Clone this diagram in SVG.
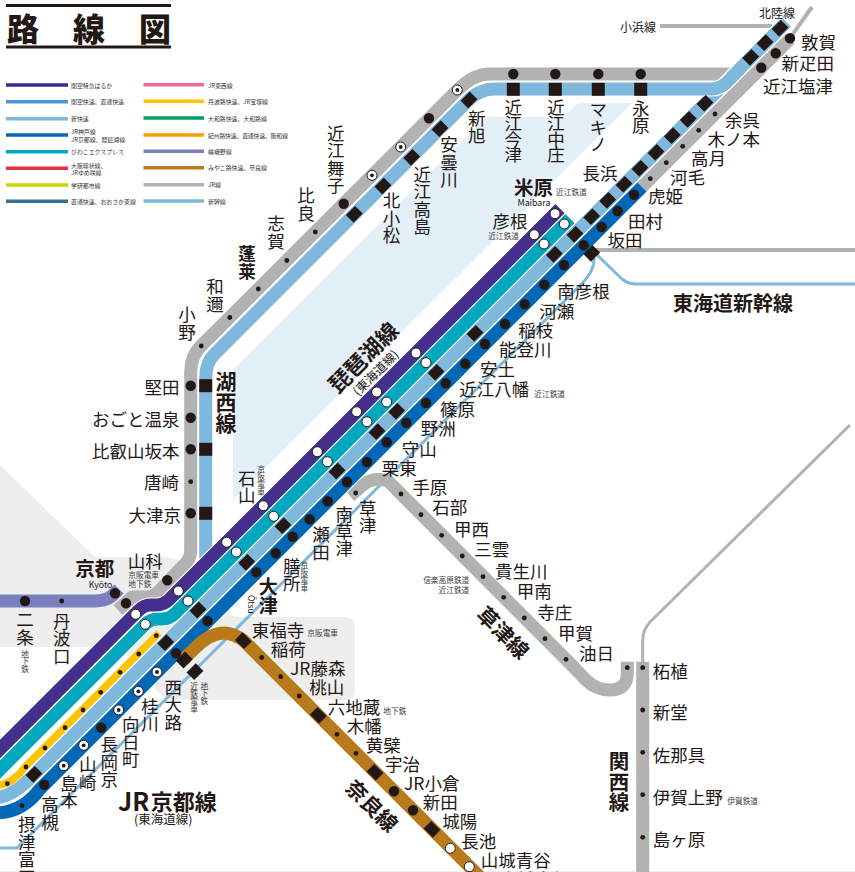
<svg xmlns="http://www.w3.org/2000/svg" width="855" height="872" viewBox="0 0 855 872">
<style>
text{font-family:"Noto Sans CJK JP","Noto Sans",sans-serif;fill:#231815;dominant-baseline:central}
.l{font-size:17.5px}
.v{writing-mode:vertical-rl}
.s{font-size:7.7px;fill:#3c3c3c}
.t{font-size:5.9px;fill:#333}
.h{font-weight:700}
.e{text-anchor:end}
.m{text-anchor:middle}
.r{fill:none;stroke-linejoin:round}
.k{stroke:#fff;stroke-width:15.2}
.c{stroke-width:13}
.b{fill:#231815}
.d{fill:#231815}
.w{fill:#fff;stroke:#231815;stroke-width:1}
.lg{stroke-width:3.6;fill:none}
</style>
<defs>
<rect id="sq" x="-6.5" y="-5.4" width="13" height="10.8" class="b" transform="rotate(-45)"/>
<rect id="sb" x="-6.5" y="-5.4" width="13" height="10.8" class="b" transform="rotate(45)"/>
<rect id="sh" x="-6.5" y="-6.5" width="13" height="13" class="b"/>
<circle id="bc" r="5.2" class="b"/>
<circle id="dt" r="2.4" class="d"/>
<circle id="wc" r="5" class="w"/>
<g id="tg"><circle r="5" class="w"/><circle r="1.9" class="b"/></g>
<path id="pKoseiG" d="M118,610 L132,597 H145 Q155,597 160,590 L183,566 Q190.7,560 190.7,550 V372 Q190.7,356 201,346 L458,89.5 Q473.5,74 490,74 H740"/>
<path id="pKoseiB" d="M205.7,578 V378 Q205.7,363 214,354.6 L468,100.6 Q479.6,89 495,89 H712 Q722,89 731,78 L745,63.5"/>
<path id="pGrayD" d="M636,193 L790,39"/>
<path id="pBlue" d="M642,187 L40,789 Q22,813 -5,813"/>
<path id="pLB" d="M786.5,22 L32,776.5 Q12,797.5 -6,798"/>
<path id="pTeal" d="M570,218.5 L175,613.5 Q169.5,619 162,619 H158 Q152,619 147,622.5 L-5,774.5"/>
<path id="pPurple" d="M560,208.7 L170,598.7 Q164,605 156,605 H150 Q144,605 138,611 L-5,754"/>
</defs>
<rect width="855" height="872" fill="#fff"/>
<g id="background">
<path d="M0,465 L95,557 H165 Q178,557 185,568 L215,605 Q225,617 240,617 H345 Q355,617 355,627 V690 Q355,700 345,700 H165 L120,647 H0 Z" fill="#eeeeee"/>
<path d="M233,500 V375 Q233,370 237,366 L486,117 H563 L577,104 Q578,103 582,103 H632 Z" fill="#e3f0f8"/>
<rect y="871" width="855" height="1" fill="#eeeeee"/>
</g>
<g id="title">
<rect x="6" y="4" width="165" height="3" class="b"/>
<rect x="6" y="45.500" width="165" height="3" class="b"/>
<text x="7" y="26.500" font-size="32" font-weight="900">路</text>
<text x="73" y="26.500" font-size="32" font-weight="900">線</text>
<text x="139" y="26.500" font-size="32" font-weight="900">図</text>
</g>
<g id="legend">
<path class="lg" stroke="#3b2a8f" d="M6,85 H68"/><text class="t" x="71" y="85.500">関空特急はるか</text>
<path class="lg" stroke="#4a96d3" d="M6,101.700 H68"/><text class="t" x="71" y="101.700">関空快速、直通快速</text>
<path class="lg" stroke="#7fb8dd" d="M6,118.700 H68"/><text class="t" x="71" y="118.700">新快速</text>
<path class="lg" stroke="#0068b7" d="M6,135 H68"/><text class="t" x="71" y="131.500">JR神戸線</text><text class="t" x="71" y="139">JR京都線、琵琶湖線</text>
<path class="lg" stroke="#00a7bf" d="M6,151.700 H68"/><text class="t" x="71" y="151.700">びわこエクスプレス</text>
<path class="lg" stroke="#e8304a" d="M6,168.300 H68"/><text class="t" x="71" y="165">大阪環状線、</text><text class="t" x="71" y="172.500">JRゆめ咲線</text>
<path class="lg" stroke="#c3d600" d="M6,185 H68"/><text class="t" x="71" y="185">学研都市線</text>
<path class="lg" stroke="#33709a" d="M6,201.300 H68"/><text class="t" x="71" y="201.300">直通快速、おおさか東線</text>
<path class="lg" stroke="#ee6d8f" d="M143.500,84.700 H204"/><text class="t" x="208" y="85">JR東西線</text>
<path class="lg" stroke="#ffc400" d="M143.500,101.300 H204"/><text class="t" x="208" y="101.300">丹波路快速、JR宝塚線</text>
<path class="lg" stroke="#00a15e" d="M143.500,118 H204"/><text class="t" x="208" y="118">大和路快速、大和路線</text>
<path class="lg" stroke="#f99f00" d="M143.500,135 H204"/><text class="t" x="208" y="135" letter-spacing="-0.2">紀州路快速、直通快速、阪和線</text>
<path class="lg" stroke="#7a80bf" d="M143.500,151.300 H204"/><text class="t" x="208" y="151.300">嵯峨野線</text>
<path class="lg" stroke="#b97a1b" d="M143.500,167.700 H204"/><text class="t" x="208" y="167.700">みやこ路快速、奈良線</text>
<path class="lg" stroke="#b2b2b2" d="M143.500,184.700 H204"/><text class="t" x="208" y="184.700">JR線</text>
<path class="lg" stroke="#7fb8dd" d="M143.500,201 H204"/><text class="t" x="208" y="201">新幹線</text>
</g>
<g id="connectors">
<path class="r" stroke="#7fb8dd" stroke-width="3" d="M-5,848 H17 L582,283.500 Q595,270 594,258"/>
<path class="r" stroke="#7fb8dd" stroke-width="3" d="M594,252 L622,279 Q628,284 636,284 H855"/>
<path class="r" stroke="#b2b2b2" stroke-width="4" d="M595,250 H855"/>
<path class="r" stroke="#b2b2b2" stroke-width="4" d="M660,26 H772"/>
<path class="r" stroke="#b2b2b2" stroke-width="4" d="M790,38 L812,7"/>
<path class="r" stroke="#b2b2b2" stroke-width="3" d="M642.700,665 V640 Q642.700,630 650,622 L850,425"/>
<path class="r c" stroke="#b2b2b2" d="M350,496 L364,484 Q374,477 388,481 L566,659.300 L586,680 Q596,690 610,690 Q627.300,690 627.300,673 V661.700"/>
<path class="r c" stroke="#b2b2b2" d="M642.700,661.700 V872"/>
<path class="r c" stroke="#7a80bf" d="M-5,601 H95 Q105,601 112,596 L119,589"/>
<use href="#pKoseiG" class="r c" stroke="#b2b2b2"/>
<use href="#pGrayD" class="r c" stroke="#b2b2b2"/>
<use href="#pLB" class="r k"/>
<use href="#pLB" class="r c" stroke="#7fb8dd"/>
<use href="#pKoseiB" class="r k"/>
<use href="#pKoseiB" class="r c" stroke="#7fb8dd"/>
<use href="#pBlue" class="r k"/>
<use href="#pBlue" class="r c" stroke="#0068b7"/>
<path class="r" stroke="#ffc400" stroke-width="7.400" d="M159,633 L25,767 Q12,785 -5,786"/>
<use href="#pTeal" class="r k"/>
<use href="#pTeal" class="r c" stroke="#00a7bf"/>
<use href="#pPurple" class="r k"/>
<use href="#pPurple" class="r c" stroke="#44308c"/>
<path class="r c" stroke="#b97a1b" d="M183,660 L195,648 Q210,633 225,633 Q235,634 243.500,640.500 L480,877"/>
</g>
<g id="line-names">
<text class="h m" font-size="22" transform="translate(362,356) rotate(-45)">琵琶湖線</text>
<text class="m" font-size="12.500" transform="translate(375,372) rotate(-45)">(東海道線)</text>
<text class="h m" font-size="21" transform="translate(504,632) rotate(45)">草津線</text>
<text class="h m" font-size="21" transform="translate(372.700,805) rotate(45)">奈良線</text>
<text class="h v" font-size="21" x="226" y="371">湖西線</text>
<text class="h v" font-size="20.500" x="619" y="751">関西線</text>
<text class="h" x="118" y="799.500"><tspan font-size="25">JR</tspan><tspan font-size="22" dx="1.500">京都線</tspan></text>
<text font-size="12.500" x="134" y="818.500">(東海道線)</text>
<text class="h" font-size="20" x="673" y="302">東海道新幹線</text>
<text font-size="12" x="620" y="26">小浜線</text>
<text font-size="12" x="759" y="12.700">北陸線</text>
</g>
<g id="st-tsuruga"><use href="#bc" x="790" y="38.300"/><use href="#sq" transform="translate(780,28.300)"/><text class="l" x="801" y="41">敦賀</text></g>
<g id="st-shinhikida"><use href="#bc" x="775.700" y="53.300"/><use href="#sq" transform="translate(765,42.700)"/><text class="l" x="781.500" y="62.300">新疋田</text></g>
<g id="st-omishiozu"><use href="#bc" x="761.300" y="67.700"/><use href="#sq" transform="translate(750.700,57.300)"/><text class="l" x="763" y="85">近江塩津</text></g>
<g id="st-yogo"><use href="#dt" x="715" y="114"/><use href="#sq" transform="translate(705,103.300)"/><text class="l" x="725" y="119">余呉</text></g>
<g id="st-kinomoto"><use href="#dt" x="698.700" y="130.300"/><use href="#sq" transform="translate(688.300,119.300)"/><text class="l" x="707.500" y="138">木ノ本</text></g>
<g id="st-takatsuki2"><use href="#dt" x="682.700" y="146.300"/><use href="#sq" transform="translate(672.300,135.700)"/><text class="l" x="691" y="157">高月</text></g>
<g id="st-kawake"><use href="#dt" x="666.300" y="162.700"/><use href="#sq" transform="translate(656,152.300)"/><text class="l" x="670" y="176.700">河毛</text></g>
<g id="st-torahime"><use href="#dt" x="650.300" y="178.700"/><use href="#sq" transform="translate(640,168.300)"/><text class="l" x="648" y="195.300">虎姫</text></g>
<g id="st-nagahama"><use href="#bc" x="634" y="194.700"/><use href="#sq" transform="translate(624,184.300)"/><text class="l" x="582.500" y="172.700">長浜</text></g>
<g id="st-tamura"><use href="#bc" x="617.700" y="211"/><use href="#sq" transform="translate(607.700,200.300)"/><text class="l" x="628" y="220">田村</text></g>
<g id="st-sakata"><use href="#bc" x="601.700" y="227"/><use href="#sq" transform="translate(591.700,216.700)"/><text class="l" x="607.500" y="239">坂田</text></g>
<g id="st-maibara"><use href="#wc" x="555" y="213.700"/><use href="#wc" x="564.300" y="224"/><use href="#sq" transform="translate(575,234.300)"/><use href="#bc" x="583.700" y="245.300"/><use href="#sq" transform="translate(591.700,253.300)"/><text class="h" font-size="19.500" x="514" y="186.500">米原</text><text font-size="8.800" x="517.500" y="202">Maibara</text><text class="s" x="556" y="191.700">近江鉄道</text></g>
<g id="st-hikone"><use href="#wc" x="534.300" y="234.700"/><use href="#wc" x="544" y="244"/><use href="#sq" transform="translate(554.300,254.300)"/><use href="#bc" x="564" y="265"/><text class="l" x="492.500" y="220.700">彦根</text><text class="s" x="488.300" y="235">近江鉄道</text></g>
<g id="st-minamihikone"><use href="#bc" x="544.300" y="284.700"/><text class="l" x="557.300" y="290">南彦根</text></g>
<g id="st-kawase"><use href="#bc" x="524.700" y="304.300"/><text class="l" x="539.300" y="310">河瀬</text></g>
<g id="st-inae"><use href="#bc" x="505" y="324"/><text class="l" x="518.300" y="329.300">稲枝</text></g>
<g id="st-notogawa"><use href="#sq" transform="translate(475,333.300)"/><use href="#bc" x="485" y="344"/><text class="l" x="499" y="348.700">能登川</text></g>
<g id="st-azuchi"><use href="#bc" x="465.300" y="363.700"/><text class="l" x="480" y="368">安土</text></g>
<g id="st-omihachiman"><use href="#wc" x="416" y="353"/><use href="#wc" x="426" y="362.700"/><use href="#sq" transform="translate(436,372.300)"/><use href="#bc" x="445.700" y="383.300"/><text class="l" x="459.300" y="388.300">近江八幡</text><text class="s" x="534.300" y="393.300">近江鉄道</text></g>
<g id="st-shinohara"><use href="#bc" x="426" y="403"/><text class="l" x="440" y="408.700">篠原</text></g>
<g id="st-yasu"><use href="#wc" x="376.700" y="392"/><use href="#wc" x="386.700" y="402"/><use href="#sq" transform="translate(396.700,411.300)"/><use href="#bc" x="406.300" y="422.700"/><text class="l" x="420.700" y="427.700">野洲</text></g>
<g id="st-moriyama"><use href="#wc" x="356.700" y="411.700"/><use href="#wc" x="367" y="421.700"/><use href="#sq" transform="translate(377,431.700)"/><use href="#bc" x="386.700" y="442.300"/><text class="l" x="401.700" y="448.300">守山</text></g>
<g id="st-ritto"><use href="#bc" x="367" y="462"/><text class="l" x="381.700" y="467.300">栗東</text></g>
<g id="st-kusatsu"><use href="#wc" x="317.300" y="451.700"/><use href="#wc" x="327.300" y="461.700"/><use href="#sq" transform="translate(337,471)"/><use href="#bc" x="347" y="482"/><use href="#dt" x="355.700" y="493"/><text class="l v" x="367.700" y="499.500">草津</text></g>
<g id="st-minamikusatsu"><use href="#bc" x="327.700" y="501.300"/><text class="l v" x="344.300" y="506" letter-spacing="-0.500">南草津</text></g>
<g id="st-seta"><use href="#bc" x="309.700" y="519.300"/><text class="l v" x="321" y="526">瀬田</text></g>
<g id="st-ishiyama"><use href="#wc" x="263.300" y="505.700"/><use href="#wc" x="273.700" y="516.300"/><use href="#sq" transform="translate(283,525.700)"/><use href="#bc" x="292.700" y="536.700"/><text class="l v" x="246.700" y="469.500">石山</text><text class="s v" x="261" y="465">京阪電車</text></g>
<g id="st-zeze"><use href="#bc" x="275.700" y="553.300"/><text class="l v" x="291.700" y="557.500">膳所</text><text class="s v" x="304.300" y="561">京阪電車</text></g>
<g id="st-otsu"><use href="#wc" x="226.700" y="542.300"/><use href="#wc" x="236.300" y="552"/><use href="#sq" transform="translate(246.700,562.300)"/><use href="#bc" x="256.300" y="572.300"/><text class="h v" font-size="19" x="268.300" y="577">大津</text><text class="v" font-size="8.500" x="251.700" y="595">Ōtsu</text></g>
<g id="st-yamashina"><use href="#bc" x="167.300" y="580.300"/><use href="#wc" x="178.300" y="591"/><use href="#wc" x="188" y="601"/><use href="#sq" transform="translate(198,610)"/><use href="#bc" x="207.700" y="621"/><text class="l" x="127.700" y="560">山科</text><text class="s" x="128.300" y="574.300">京阪電車</text><text class="s" x="128.300" y="583.700">地下鉄</text></g>
<g id="st-kyoto"><use href="#bc" x="126" y="603.300"/><use href="#bc" x="115" y="593.300"/><use href="#wc" x="135.700" y="614.300"/><use href="#wc" x="145.300" y="624.300"/><use href="#dt" x="156.300" y="635.700"/><use href="#sq" transform="translate(165.700,642.700)"/><use href="#bc" x="176" y="653.300"/><use href="#sq" transform="translate(184.300,660)"/><use href="#sq" transform="translate(195,671.700)"/><text class="h" font-size="19.500" x="75.300" y="567.300">京都</text><text font-size="8.800" x="88.700" y="584">Kyōto</text></g>
<g id="st-nijo"><use href="#bc" x="25" y="601"/><text class="l v" x="25" y="611">二条</text><text class="s v" x="25" y="650">地下鉄</text></g>
<g id="st-tambaguchi"><use href="#dt" x="61.700" y="601"/><text class="l v" x="61.700" y="612.500">丹波口</text></g>
<g id="st-nishioji"><use href="#dt" x="138.700" y="654"/><use href="#tg" x="157" y="672"/><text class="l v" x="173.300" y="678.500">西大路</text><text class="s v" x="204.300" y="682">地下鉄</text><text class="s v" x="194" y="682">近鉄電車</text></g>
<g id="st-katsuragawa"><use href="#dt" x="120" y="672.300"/><use href="#tg" x="138.300" y="691.300"/><text class="l v" x="150" y="697.500">桂川</text></g>
<g id="st-mukomachi"><use href="#dt" x="100.700" y="692.300"/><use href="#tg" x="118.700" y="710"/><text class="l v" x="130.700" y="716">向日町</text></g>
<g id="st-nagaokakyo"><use href="#dt" x="83" y="710"/><use href="#bc" x="101.300" y="727.700"/><text class="l v" x="109.300" y="736">長岡京</text></g>
<g id="st-yamazaki"><use href="#dt" x="65" y="727.700"/><use href="#tg" x="83.700" y="745.300"/><text class="l v" x="87.700" y="756">山崎</text></g>
<g id="st-shimamoto"><use href="#dt" x="45" y="748"/><use href="#tg" x="63.700" y="765.700"/><text class="l v" x="69" y="774.500">島本</text></g>
<g id="st-takatsuki"><use href="#dt" x="26" y="767"/><use href="#sq" transform="translate(34,774.300)"/><use href="#bc" x="44.300" y="784.700"/><text class="l v" x="50" y="796">高槻</text></g>
<g id="st-settsutonda"><use href="#dt" x="7.300" y="783.700"/><use href="#dt" x="22" y="805.700"/><text class="l v" x="26.700" y="816">摂津富田</text></g>
<g id="st-nagahara"><use href="#bc" x="640.700" y="74"/><use href="#sh" x="640.700" y="89.300"/><text class="l v" x="640.700" y="99.500">永原</text></g>
<g id="st-makino"><use href="#bc" x="598.300" y="74"/><use href="#sh" x="598.300" y="89.300"/><text class="l v" x="598.300" y="101">マキノ</text></g>
<g id="st-ominakasho"><use href="#bc" x="555.300" y="74"/><use href="#sh" x="555.300" y="89.300"/><text class="l v" x="556" y="98.500" letter-spacing="-1.700">近江中庄</text></g>
<g id="st-omiimazu"><use href="#bc" x="513.300" y="74"/><use href="#sh" x="513.300" y="89.300"/><text class="l v" x="513.300" y="98.500" letter-spacing="-1.700">近江今津</text></g>
<g id="st-shinasahi"><use href="#tg" x="457.300" y="90"/><use href="#sq" transform="translate(469,100)"/><text class="l v" x="476.700" y="109.500">新旭</text></g>
<g id="st-adogawa"><use href="#bc" x="429" y="118.300"/><use href="#sq" transform="translate(440,128.700)"/><text class="l v" x="449" y="136">安曇川</text></g>
<g id="st-omitakashima"><use href="#tg" x="400.700" y="147"/><use href="#sq" transform="translate(411.700,157.300)"/><text class="l v" x="422.300" y="165.500">近江高島</text></g>
<g id="st-kitakomatsu"><use href="#tg" x="372" y="175.300"/><use href="#sq" transform="translate(383,186)"/><text class="l v" x="391.500" y="192">北小松</text></g>
<g id="st-omimaiko"><use href="#bc" x="343.700" y="203.700"/><use href="#sq" transform="translate(354.300,214.300)"/><text class="l v" x="335.700" y="124.500">近江舞子</text></g>
<g id="st-hira"><use href="#dt" x="315.300" y="232"/><text class="l v" x="306" y="187">比良</text></g>
<g id="st-shiga"><use href="#dt" x="286.800" y="260.500"/><text class="l v" x="276" y="215">志賀</text></g>
<g id="st-horai"><use href="#dt" x="258.300" y="289"/><text class="h v" font-size="17.500" x="247" y="245">蓬莱</text></g>
<g id="st-wani"><use href="#dt" x="229.800" y="317.500"/><text class="l v" x="215" y="278">和邇</text></g>
<g id="st-ono"><use href="#dt" x="201.300" y="346"/><text class="l v" x="187" y="306">小野</text></g>
<g id="st-katata"><use href="#bc" x="190.700" y="385.700"/><use href="#sh" x="205.700" y="385.700"/><text class="l e" x="179.500" y="386">堅田</text></g>
<g id="st-ogoto"><use href="#bc" x="190.700" y="417.700"/><text class="l e" x="179.500" y="418">おごと温泉</text></g>
<g id="st-hieizan"><use href="#bc" x="190.700" y="449.300"/><use href="#sh" x="205.700" y="449.300"/><text class="l e" x="179.500" y="450">比叡山坂本</text></g>
<g id="st-karasaki"><use href="#dt" x="190.700" y="481.700"/><text class="l e" x="179" y="481">唐崎</text></g>
<g id="st-otsukyo"><use href="#bc" x="190.700" y="513.300"/><use href="#sh" x="205.700" y="513.300"/><text class="l e" x="181" y="514">大津京</text></g>
<g id="st-tehara"><use href="#dt" x="401" y="494"/><text class="l" x="412.300" y="486.300">手原</text></g>
<g id="st-ishibe"><use href="#dt" x="421" y="514.700"/><text class="l" x="432.300" y="506.700">石部</text></g>
<g id="st-kosei"><use href="#dt" x="441.700" y="535.300"/><text class="l" x="454" y="528">甲西</text></g>
<g id="st-mikumo"><use href="#dt" x="462.300" y="556"/><text class="l" x="474.300" y="548.700">三雲</text></g>
<g id="st-kibukawa"><use href="#dt" x="483" y="576.700"/><text class="l" x="495" y="570">貴生川</text><text class="s e" x="469.300" y="579">信楽高原鉄道</text><text class="s e" x="469.300" y="589">近江鉄道</text></g>
<g id="st-konan"><use href="#dt" x="503.700" y="597.300"/><text class="l" x="516.700" y="590.700">甲南</text></g>
<g id="st-terasho"><use href="#dt" x="524.300" y="618"/><text class="l" x="537.300" y="611.300">寺庄</text></g>
<g id="st-koka"><use href="#dt" x="545" y="638.700"/><text class="l" x="558" y="632">甲賀</text></g>
<g id="st-aburahi"><use href="#dt" x="566" y="659.300"/><text class="l" x="579" y="652.700">油日</text></g>
<g id="st-tsuge"><use href="#dt" x="627.300" y="667.700"/><use href="#dt" x="642.700" y="667.700"/><text class="l" x="652.700" y="670">柘植</text></g>
<g id="st-shindo"><use href="#dt" x="642.700" y="710"/><text class="l" x="652.700" y="711.700">新堂</text></g>
<g id="st-sanagu"><use href="#dt" x="642.700" y="752.300"/><text class="l" x="652.700" y="754">佐那具</text></g>
<g id="st-igaueno"><use href="#dt" x="642.700" y="794.700"/><text class="l" x="652.700" y="796.700">伊賀上野</text><text class="s" x="727.300" y="800">伊賀鉄道</text></g>
<g id="st-shimagahara"><use href="#dt" x="642.700" y="837.300"/><text class="l" x="652.700" y="838.300">島ヶ原</text></g>
<g id="st-tofukuji"><use href="#sb" transform="translate(243.300,640.700)"/><text class="l" x="251.700" y="629.300">東福寺</text><text class="s" x="307.300" y="632.300">京阪電車</text></g>
<g id="st-inari"><use href="#dt" x="261.700" y="657.500"/><text class="l" x="270.700" y="648.700">稲荷</text></g>
<g id="st-jrfujinomori"><use href="#dt" x="280.700" y="676.700"/><text class="l" x="290" y="667.700">JR藤森</text></g>
<g id="st-momoyama"><use href="#dt" x="299.300" y="696"/><text class="l" x="309.300" y="686.700">桃山</text></g>
<g id="st-rokujizo"><use href="#sb" transform="translate(318.300,715.300)"/><text class="l" x="327.700" y="706">六地蔵</text><text class="s" x="383.300" y="710">地下鉄</text></g>
<g id="st-kohata"><use href="#dt" x="337" y="734.300"/><text class="l" x="346.700" y="725">木幡</text></g>
<g id="st-obaku"><use href="#dt" x="356" y="753.300"/><text class="l" x="365.700" y="744">黄檗</text></g>
<g id="st-uji"><use href="#sb" transform="translate(375,772.300)"/><text class="l" x="385" y="763.300">宇治</text></g>
<g id="st-jrogura"><use href="#bc" x="394" y="791.300"/><text class="l" x="404" y="782.300">JR小倉</text></g>
<g id="st-shinden"><use href="#bc" x="413" y="810.300"/><text class="l" x="422.700" y="801.700">新田</text></g>
<g id="st-joyo"><use href="#sb" transform="translate(432,829.300)"/><text class="l" x="442.300" y="820.700">城陽</text></g>
<g id="st-nagaike"><use href="#wc" x="450.300" y="848.300"/><text class="l" x="461.300" y="840">長池</text></g>
<g id="st-yamashiroaodani"><use href="#wc" x="469.300" y="866.700"/><text class="l" x="480.700" y="859">山城青谷</text></g>
<g id="st-yamashirotaga"><text class="l" x="500" y="878">山城多賀</text></g>
</svg>
